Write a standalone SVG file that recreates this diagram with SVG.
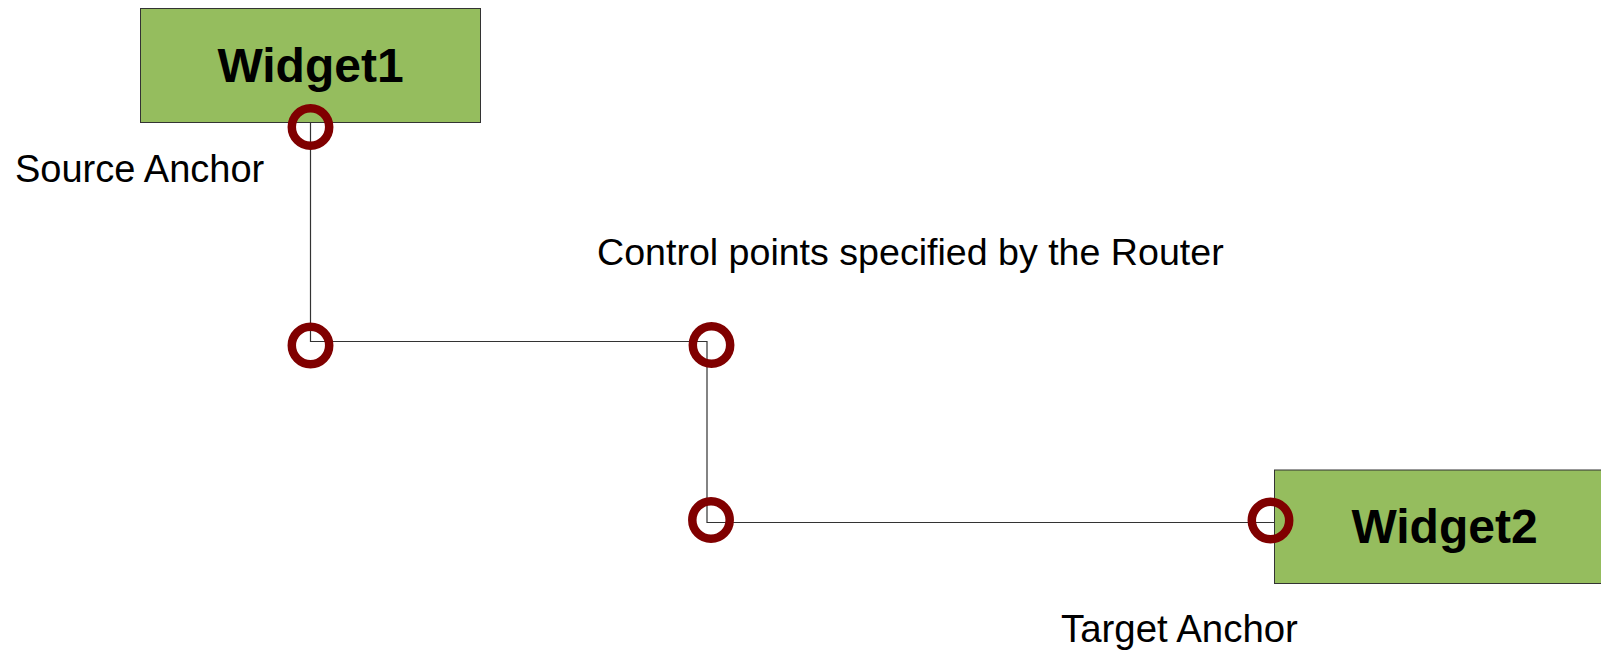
<svg xmlns="http://www.w3.org/2000/svg" width="1601" height="652" viewBox="0 0 1601 652">
<style>
.widget{fill:#95BD5E;stroke:#333;stroke-width:1}
.wlabel{font-family:"Liberation Sans",Arial,sans-serif;font-weight:bold;font-size:48px;fill:#000;text-anchor:middle}
.label{font-family:"Liberation Sans",Arial,sans-serif;font-size:38px;fill:#000}
.conn{fill:none;stroke:#333;stroke-width:1.2}
.pt{fill:none;stroke:#800000;stroke-width:8.5}
</style>
<rect width="1601" height="652" fill="#fff"/>
<g id="connectors">
<polyline class="conn" points="310.5,122 310.5,341.5 707,341.5 707,522.5 1274,522.5"/>
</g>
<g id="widget1">
<rect class="widget" x="140.5" y="8.5" width="340" height="114"/>
<text class="wlabel" x="310.5" y="82">Widget1</text>
</g>
<g id="widget2">
<rect class="widget" x="1274.5" y="470" width="340" height="113.5"/>
<text class="wlabel" x="1444.5" y="543">Widget2</text>
</g>
<g id="points">
<circle class="pt" cx="310.5" cy="127" r="18.7"/>
<circle class="pt" cx="310.5" cy="345.5" r="18.7"/>
<circle class="pt" cx="711.5" cy="345" r="18.7"/>
<circle class="pt" cx="711" cy="520" r="18.7"/>
<circle class="pt" cx="1270.5" cy="520.5" r="18.7"/>
</g>
<g id="labels">
<text class="label" x="15" y="181.5">Source Anchor</text>
<text class="label" x="597" y="265" style="font-size:37.6px">Control points specified by the Router</text>
<text class="label" x="1061" y="642" style="font-size:38.4px">Target Anchor</text>
</g>
</svg>
